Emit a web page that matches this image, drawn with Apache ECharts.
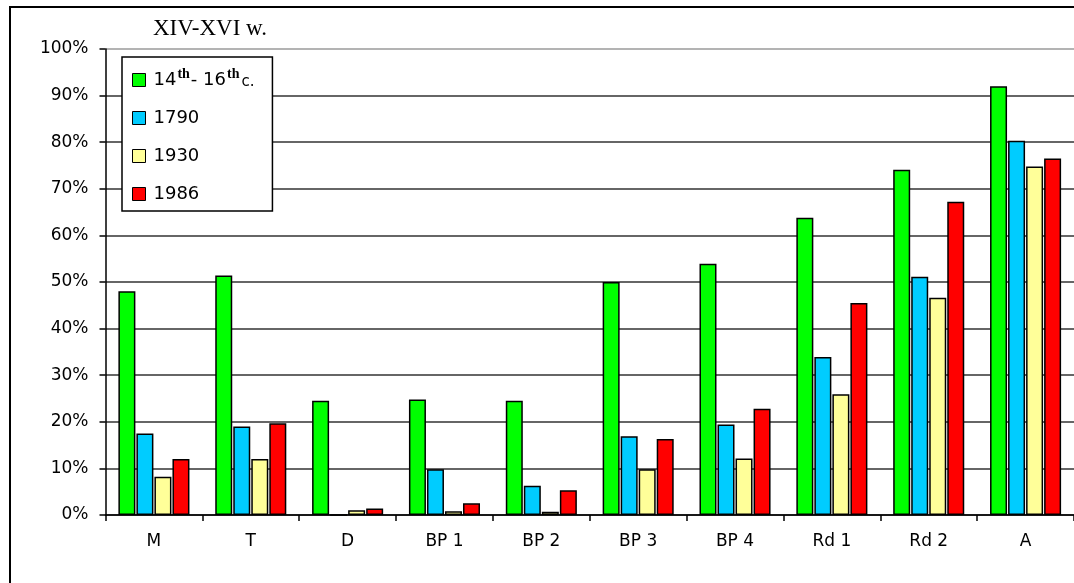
<!DOCTYPE html>
<html>
<head>
<meta charset="utf-8">
<script src="https://cdn.jsdelivr.net/npm/echarts@6/dist/echarts.min.js"></script>
<style>
  html, body { margin: 0; padding: 0; background: #fff; }
  #chart { width: 1074px; height: 583px; }
</style>
</head>
<body>
<div id="chart"></div>
<script>
// Sites along the x axis
const categories = ['M', 'T', 'D', 'BP 1', 'BP 2', 'BP 3', 'BP 4', 'Rd 1', 'Rd 2', 'A'];

// Share (%) per period
const period14_16 = [48.0, 51.4, 24.5, 24.8, 24.5, 50.0, 53.9, 63.8, 74.1, 92.0];
const year1790    = [17.5, 19.0, 0,    9.8,  6.3,  16.9, 19.4, 33.9, 51.1, 80.3];
const year1930    = [8.2,  12.0, 1.0,  0.8,  0.7,  9.8,  12.1, 25.9, 46.6, 74.8];
const year1986    = [12.0, 19.7, 1.4,  2.5,  5.3,  16.3, 22.8, 45.5, 67.2, 76.5];

const seriesNames = ['14th- 16th c.', '1790', '1930', '1986'];
const seriesData = [period14_16, year1790, year1930, year1986];
const seriesColors = ['#00FF00', '#00CCFF', '#FFFF99', '#FF0000'];

// Y tick labels 0%..100%
const yTicks = [0, 10, 20, 30, 40, 50, 60, 70, 80, 90, 100];

const sansFont = '"DejaVu Sans", sans-serif';
const serifFont = '"Liberation Serif", "DejaVu Serif", serif';

const chart = echarts.init(document.getElementById('chart'), null, { renderer: 'canvas' });

// split line colours: darker lines, lighter top border line at 100%
const splitColors = yTicks.map((v) => (v === 100 ? '#9a9a9a' : '#333333'));

const option = {
  animation: false,
  backgroundColor: '#ffffff',
  title: {
    text: 'XIV-XVI w.',
    left: 148,
    top: 12,
    textStyle: {
      fontFamily: serifFont,
      fontWeight: 'normal',
      fontSize: 23,
      color: '#000'
    }
  },
  graphic: [
    {
      type: 'rect',
      silent: true,
      shape: { x: 10, y: 7, width: 1200, height: 700 },
      style: { fill: 'none', stroke: '#000', lineWidth: 2 }
    }
  ],
  legend: {
    orient: 'vertical',
    left: 122,
    top: 57,
    padding: [10, 18, 4, 10],
    itemGap: 12,
    itemWidth: 13,
    itemHeight: 13,
    backgroundColor: '#fff',
    borderColor: '#000',
    borderWidth: 1.5,
    borderRadius: 0,
    icon: 'rect',
    itemStyle: { borderColor: '#000', borderWidth: 1 },
    data: seriesNames,
    formatter: function (name) {
      if (name === seriesNames[0]) {
        return '{n|14}{s|th}{n|- 16}{s|th}{c|c.}';
      }
      return '{n|' + name + '}';
    },
    textStyle: {
      color: '#000',
      fontFamily: sansFont,
      fontSize: 18,
      lineHeight: 26,
      padding: [0, 0, 0, 3],
      rich: {
        n: { fontFamily: sansFont, fontSize: 18, lineHeight: 26, color: '#000' },
        s: { fontFamily: serifFont, fontSize: 14, fontWeight: 'bold', lineHeight: 26, verticalAlign: 'top', color: '#000', padding: [0, 1, 0, 1] },
        c: { fontFamily: sansFont, fontSize: 15, lineHeight: 26, color: '#000', padding: [5, 0, 0, 1] }
      }
    }
  },
  grid: {
    left: 105.5,
    right: -3,
    top: 49,
    bottom: 68,
    containLabel: false
  },
  xAxis: {
    type: 'category',
    data: categories,
    boundaryGap: true,
    axisLine: { show: true, lineStyle: { color: '#000', width: 1.5 } },
    axisTick: { show: true, length: 6, alignWithLabel: false, lineStyle: { color: '#000', width: 1.5 } },
    axisLabel: {
      interval: 0,
      margin: 18,
      color: '#000',
      fontFamily: sansFont,
      fontSize: 17
    },
    splitLine: { show: false }
  },
  yAxis: {
    type: 'value',
    min: 0,
    max: 100,
    interval: 10,
    axisLine: { show: true, lineStyle: { color: '#000', width: 1.5 } },
    axisTick: { show: true, length: 6, lineStyle: { color: '#000', width: 1.5 } },
    axisLabel: {
      margin: 17,
      color: '#000',
      fontFamily: sansFont,
      fontSize: 17,
      formatter: '{value}%'
    },
    splitLine: { show: true, lineStyle: { color: splitColors, width: 1.5 } }
  },
  series: seriesNames.map((name, i) => ({
    name: name,
    type: 'bar',
    data: seriesData[i],
    barWidth: 17,
    barGap: '6%',
    itemStyle: {
      color: seriesColors[i],
      borderColor: '#000',
      borderWidth: 1.5
    },
    emphasis: { disabled: true }
  }))
};

chart.setOption(option);
</script>
</body>
</html>
